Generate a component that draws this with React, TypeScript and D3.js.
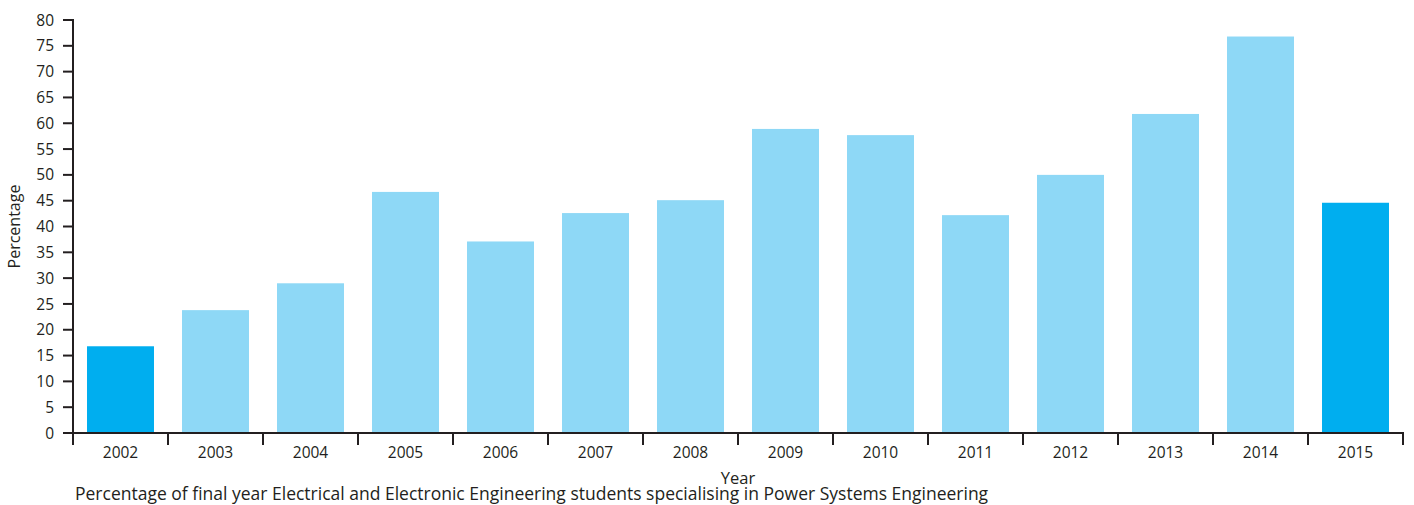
import React from "react";
import * as d3 from "d3";

const years = ["2002","2003","2004","2005","2006","2007","2008","2009","2010","2011","2012","2013","2014","2015"];
const percentages = [16.8, 23.8, 29.0, 46.7, 37.1, 42.6, 45.1, 58.9, 57.7, 42.2, 50.0, 61.8, 76.8, 44.6];
const highlighted = ["2002", "2015"];
const yTicks = d3.range(0, 81, 5);

const W = 1414, H = 505;
const margin = { left: 73, right: 11, top: 20, bottom: 72 };
const FONT = "'Open Sans', 'Noto Sans', sans-serif";
const AXIS = "#231f20";

export default function App() {
  const x = d3.scaleBand<string>().domain(years).range([margin.left, W - margin.right]).paddingInner(0.295).paddingOuter(0.1475);
  const band = d3.scaleBand<string>().domain(years).range([margin.left, W - margin.right]);
  const y = d3.scaleLinear().domain([0, 80]).range([H - margin.bottom, margin.top]);
  const y0 = y(0);
  const x0 = margin.left, x1 = W - margin.right;
  return (
    <svg width={W} height={H} style={{ position: "absolute", left: 0, top: 0, background: "#fff" }} fontFamily={FONT}>
      {years.map((yr, i) => (
        <rect key={yr} x={x(yr)} y={y(percentages[i])} width={x.bandwidth()} height={y0 - y(percentages[i])}
          fill={highlighted.includes(yr) ? "#00aeef" : "#8ed8f6"} />
      ))}
      {/* y axis */}
      <line x1={x0} x2={x0} y1={y(80) - 1} y2={y0 + 1} stroke={AXIS} strokeWidth={2} />
      {yTicks.map(t => (
        <g key={t}>
          <line x1={x0 - 10} x2={x0} y1={y(t)} y2={y(t)} stroke={AXIS} strokeWidth={2} />
          <text x={x0 - 19} y={y(t)} dy="0.36em" textAnchor="end" fontSize={15.5} fill={AXIS}>{t}</text>
        </g>
      ))}
      {/* x axis */}
      <line x1={x0 - 1} x2={x1 + 1} y1={y0} y2={y0} stroke={AXIS} strokeWidth={2} />
      {[...years.map(yr => band(yr)!), x1].map((p, i) => (
        <line key={i} x1={p} x2={p} y1={y0} y2={y0 + 12} stroke={AXIS} strokeWidth={2} />
      ))}
      {years.map(yr => (
        <text key={yr} x={band(yr)! + band.bandwidth() / 2} y={458} textAnchor="middle" fontSize={15.5} fill={AXIS}>{yr}</text>
      ))}
      <text x={(x0 + x1) / 2} y={484} textAnchor="middle" fontSize={16.5} fill={AXIS}>Year</text>
      <text transform={`translate(20, ${(y(80) + y0) / 2}) rotate(-90)`} textAnchor="middle" fontSize={16} fill={AXIS}>Percentage</text>
      <text x={75} y={500} fontSize={17.5} fill={AXIS}>Percentage of final year Electrical and Electronic Engineering students specialising in Power Systems Engineering</text>
    </svg>
  );
}
